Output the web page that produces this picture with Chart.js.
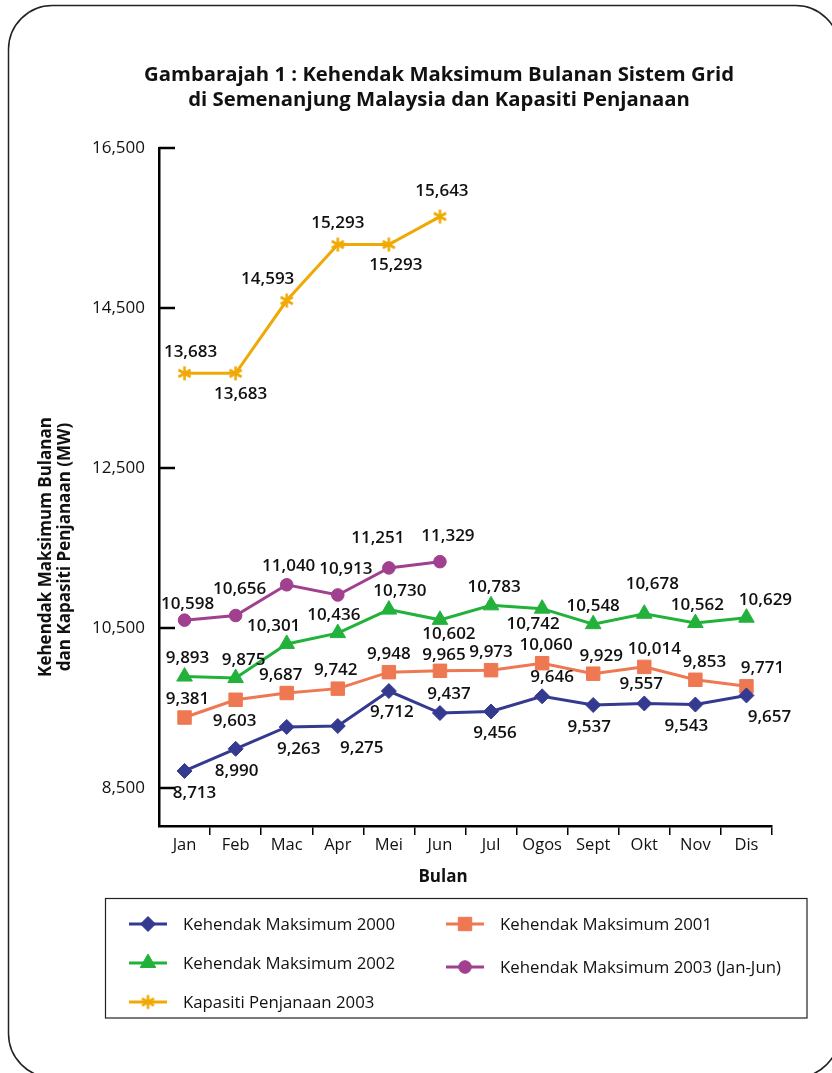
<!DOCTYPE html>
<html>
<head>
<meta charset="utf-8">
<script src="https://cdn.jsdelivr.net/npm/chart.js@4/dist/chart.umd.min.js"></script>
<style>
  html, body { margin: 0; padding: 0; background: #ffffff; }
  #wrap { width: 832px; height: 1073px; position: relative; }
  canvas { display: block; }
</style>
</head>
<body>
<div id="wrap"><canvas id="chart" width="832" height="1073"></canvas></div>
<script>
// ---- data (MW) ----
const months = ['Jan', 'Feb', 'Mac', 'Apr', 'Mei', 'Jun', 'Jul', 'Ogos', 'Sept', 'Okt', 'Nov', 'Dis'];
const demand2000 = [8713, 8990, 9263, 9275, 9712, 9437, 9456, 9646, 9537, 9557, 9543, 9657];
const demand2001 = [9381, 9603, 9687, 9742, 9948, 9965, 9973, 10060, 9929, 10014, 9853, 9771];
const demand2002 = [9893, 9875, 10301, 10436, 10730, 10602, 10783, 10742, 10548, 10678, 10562, 10629];
const demand2003 = [10598, 10656, 11040, 10913, 11251, 11329];
const capacity2003 = [13683, 13683, 14593, 15293, 15293, 15643];
const yTickValues = [8500, 10500, 12500, 14500, 16500];

const seriesNames = [
  'Kehendak Maksimum 2000',
  'Kehendak Maksimum 2001',
  'Kehendak Maksimum 2002',
  'Kehendak Maksimum 2003 (Jan-Jun)',
  'Kapasiti Penjanaan 2003'
];

// ---- value-label placement: [dx, dy] of the label centre from its point ----
const labelPos2000 = [[10,22],[1,22],[12,22],[24,22],[3,21],[9,-19],[4,22],[10,-19],[-4,22],[-3,-19],[-9,22],[23,22]];
const labelPos2001 = [[3,-18],[-1,21],[-6,-18],[-2,-18],[0,-18],[4,-16],[0,-18],[4,-18],[8,-18],[10,-18],[9,-18],[16,-18]];
const labelPos2002 = [[3,-18],[8,-18],[-13,-18],[-4,-18],[11,-18],[9,14],[3,-18],[-9,16],[0,-18],[8,-30],[2,-18],[19,-18]];
const labelPos2003 = [[3,-16],[4,-26],[2,-19],[8,-26],[-11,-30],[8,-26]];
const labelPosCap = [[6,-21],[5,21],[-19,-21],[0,-21],[7,21],[2,-25]];

const COLORS = {
  d2000: '#343a8f',
  d2001: '#ee7852',
  d2002: '#22b23b',
  d2003: '#a0408e',
  cap:   '#f0a904'
};
const INK = '#111111';
const SANS = '"Open Sans", "Noto Sans", sans-serif';
const NUM_FONT = '600 17px ' + SANS;

// six-armed asterisk used as the capacity marker
function makeAsterisk(color, r, lw) {
  const size = Math.ceil(2 * r + lw + 2);
  const c = document.createElement('canvas');
  c.width = size; c.height = size;
  const g = c.getContext('2d');
  g.strokeStyle = color;
  g.lineWidth = lw;
  const cx = size / 2, cy = size / 2;
  for (let k = 0; k < 3; k++) {
    const a = Math.PI / 2 + k * Math.PI / 3;
    g.beginPath();
    g.moveTo(cx + r * Math.cos(a), cy + r * Math.sin(a));
    g.lineTo(cx - r * Math.cos(a), cy - r * Math.sin(a));
    g.stroke();
  }
  return c;
}
const asterisk = makeAsterisk(COLORS.cap, 7, 2.6);

function fmt(v) { return Number(v).toLocaleString('en-US'); }

function lineSet(label, data, color, style, radius, placement) {
  return {
    label, data,
    borderColor: color,
    backgroundColor: color,
    borderWidth: 3,
    pointStyle: style,
    pointRadius: radius,
    pointBorderWidth: 1,
    pointBackgroundColor: color,
    pointBorderColor: color,
    tension: 0,
    fill: false,
    labelPlacement: placement
  };
}

const datasets = [
  lineSet(seriesNames[0], demand2000, COLORS.d2000, 'rectRot', 7.5, labelPos2000),
  lineSet(seriesNames[1], demand2001, COLORS.d2001, 'rect', 9.5, labelPos2001),
  lineSet(seriesNames[2], demand2002, COLORS.d2002, 'triangle', 9, labelPos2002),
  lineSet(seriesNames[3], demand2003, COLORS.d2003, 'circle', 6.3, labelPos2003),
  lineSet(seriesNames[4], capacity2003, COLORS.cap, asterisk, 7, labelPosCap)
];

// frame, titles, inner y ticks, value labels and the boxed legend
const decorations = {
  id: 'decorations',
  afterDatasetsDraw(chart) {
    const ctx = chart.ctx;
    ctx.save();
    ctx.font = NUM_FONT;
    ctx.fillStyle = INK;
    ctx.textAlign = 'center';
    ctx.textBaseline = 'middle';
    chart.data.datasets.forEach((ds, i) => {
      const meta = chart.getDatasetMeta(i);
      meta.data.forEach((pt, j) => {
        const v = ds.data[j];
        if (v === undefined || v === null) return;
        const p = ds.labelPlacement[j] || [0, -18];
        ctx.fillText(fmt(v), pt.x + p[0], pt.y + p[1]);
      });
    });
    ctx.restore();
  },
  afterDraw(chart) {
    const ctx = chart.ctx;
    const area = chart.chartArea;
    const yScale = chart.scales.y;
    ctx.save();

    // rounded outer frame
    ctx.strokeStyle = '#222';
    ctx.lineWidth = 1.5;
    ctx.beginPath();
    ctx.roundRect(8.5, 5.5, 831, 1072, 44);
    ctx.stroke();

    // y tick marks pointing into the plot
    ctx.strokeStyle = '#000';
    ctx.lineWidth = 2.5;
    yTickValues.forEach(v => {
      const y = yScale.getPixelForValue(v);
      ctx.beginPath();
      ctx.moveTo(area.left, y);
      ctx.lineTo(area.left + 16, y);
      ctx.stroke();
    });

    // chart title
    ctx.fillStyle = INK;
    ctx.textAlign = 'center';
    ctx.textBaseline = 'middle';
    ctx.font = 'bold 20.3px ' + SANS;
    ctx.fillText('Gambarajah 1 : Kehendak Maksimum Bulanan Sistem Grid', 439, 75);
    ctx.fillText('di Semenanjung Malaysia dan Kapasiti Penjanaan', 439, 100);

    // x axis title
    ctx.font = 'bold 17px ' + SANS;
    ctx.fillText('Bulan', 443, 877);

    // y axis title (two rotated lines)
    ctx.save();
    ctx.translate(46, 547);
    ctx.rotate(-Math.PI / 2);
    ctx.font = 'bold 17px ' + SANS;
    ctx.fillText('Kehendak Maksimum Bulanan', 0, 0);
    ctx.fillText('dan Kapasiti Penjanaan (MW)', 0, 19);
    ctx.restore();

    // legend box
    ctx.strokeStyle = '#222';
    ctx.lineWidth = 1.2;
    ctx.strokeRect(105.5, 898.5, 701.5, 119.5);

    const entries = [
      { ds: 0, x: 129, y: 924 },
      { ds: 1, x: 446, y: 924 },
      { ds: 2, x: 129, y: 963 },
      { ds: 3, x: 446, y: 967 },
      { ds: 4, x: 129, y: 1002 }
    ];
    ctx.font = '16.8px ' + SANS;
    ctx.textAlign = 'left';
    entries.forEach(e => {
      const ds = chart.data.datasets[e.ds];
      ctx.strokeStyle = ds.borderColor;
      ctx.lineWidth = 3;
      ctx.beginPath();
      ctx.moveTo(e.x, e.y);
      ctx.lineTo(e.x + 38, e.y);
      ctx.stroke();
      ctx.fillStyle = ds.pointBackgroundColor;
      ctx.strokeStyle = ds.pointBorderColor;
      ctx.lineWidth = 1;
      Chart.helpers.drawPoint(ctx, {
        pointStyle: ds.pointStyle,
        radius: ds.pointRadius,
        borderWidth: 1,
        rotation: 0
      }, e.x + 19, e.y);
      ctx.fillStyle = INK;
      ctx.fillText(ds.label, e.x + 54, e.y + 1);
    });

    ctx.restore();
  }
};

new Chart(document.getElementById('chart'), {
  type: 'line',
  data: { labels: months, datasets },
  plugins: [decorations],
  options: {
    responsive: false,
    animation: false,
    devicePixelRatio: 1,
    layout: { padding: { left: 0, top: 148, right: 60, bottom: 187 } },
    plugins: {
      legend: { display: false },
      tooltip: { enabled: false },
      title: { display: false }
    },
    scales: {
      x: {
        type: 'category',
        offset: true,
        grid: {
          display: true,
          offset: true,
          drawOnChartArea: false,
          drawTicks: true,
          tickLength: 9,
          lineWidth: 1.5,
          color: ctx => (ctx.index === 0 ? 'rgba(0,0,0,0)' : '#000')
        },
        border: { display: true, color: '#000', width: 2.5 },
        ticks: {
          padding: 0,
          color: INK,
          autoSkip: false,
          maxRotation: 0,
          font: { family: SANS, size: 16.5 }
        },
        afterFit(scale) { scale.height = 60; }
      },
      y: {
        min: 8025,
        max: 16500,
        afterBuildTicks(scale) { scale.ticks = yTickValues.map(v => ({ value: v })); },
        grid: { display: false, drawTicks: false },
        border: { display: true, color: '#000', width: 2.5 },
        ticks: {
          padding: 14,
          color: INK,
          font: { family: SANS, size: 17 },
          callback: v => fmt(v)
        },
        afterFit(scale) { scale.width = 159; }
      }
    }
  }
});
</script>
</body>
</html>
